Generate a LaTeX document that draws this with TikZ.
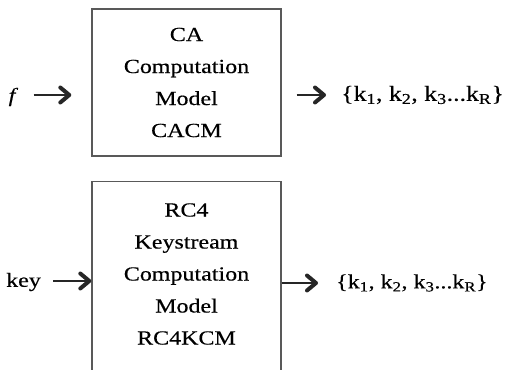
\documentclass[tikz,border=0pt]{standalone}
\usepackage{fontspec}
\setmainfont{Liberation Serif}[FakeStretch=1.2, FakeBold=0.4]
\usetikzlibrary{arrows.meta}
\tikzset{
  box/.style={draw=black!65, line width=1.4pt, minimum width=189pt, inner sep=0pt},
  lbl/.style={inner sep=0pt, font=\fontsize{20}{32}\selectfont, align=center},
  arr/.style={line width=1.3pt, black!85,
    -{Straight Barb[length=9pt, width=15pt, line width=4pt 0 1, round]}},
}
\newcommand{\keyset}{\{k\textsubscript{1}, k\textsubscript{2}, k\textsubscript{3}...k\textsubscript{R}\}}
\begin{document}
\begin{tikzpicture}[x=1pt, y=-1pt]
  \clip (0,0) rectangle (508,369);
  % upper block: CA computation model
  \node[box, lbl, minimum height=147pt] (cacm) at (186.5,82.5)
    {CA\\Computation\\Model\\CACM};
  \node[lbl, font=\fontsize{20}{24}\selectfont\itshape] (f) at (12,97) {f};
  \node[lbl, font=\fontsize{21.5}{24}\selectfont, anchor=west] (out1) at (341,95) {\keyset};
  \draw[arr, shorten <=18pt, shorten >=20pt] (f.east |- 0,95) -- (cacm.west |- 0,95);
  \draw[arr, shorten <=15pt, shorten >=15pt] (cacm.east |- 0,95) -- (out1.west);
  % lower block: RC4 keystream computation model (runs past the lower edge)
  \node[box, minimum height=200pt, anchor=north] (kcm) at (186.5,181) {};
  \node[lbl] (kcmtext) at (186.5,274)
    {RC4\\Keystream\\Computation\\Model\\RC4KCM};
  \node[lbl, anchor=west] (key) at (6,282) {key};
  \draw[arr, shorten <=12pt] (key.east |- 0,281) -- (kcm.west |- 0,281);
  \node[lbl, font=\fontsize{20}{24}\selectfont, anchor=west] (out2) at (336,283) {\keyset};
  \draw[arr, shorten >=18pt] (kcm.east |- 0,283) -- (out2.west);
\end{tikzpicture}
\end{document}
